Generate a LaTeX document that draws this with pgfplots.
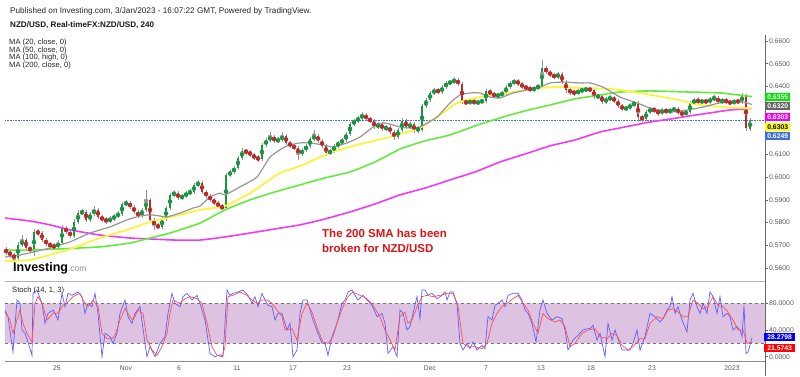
\documentclass[border=0pt]{standalone}
\usepackage{pgfplots}
\pgfplotsset{compat=1.18}
\usepackage{pgfplotstable}
\usepackage{fontspec}
\setmainfont{Liberation Sans}
\newcommand{\fs}[1]{\fontsize{#1}{#1}\selectfont}
\definecolor{upc}{RGB}{22,150,65}
\definecolor{dnc}{RGB}{190,40,40}
\definecolor{wick}{RGB}{150,150,150}
\definecolor{maG}{RGB}{150,150,150}
\definecolor{maY}{RGB}{250,245,60}
\definecolor{maL}{RGB}{100,235,60}
\definecolor{maM}{RGB}{240,60,240}
\definecolor{band}{RGB}{222,194,226}
\definecolor{stB}{RGB}{95,95,255}
\definecolor{stR}{RGB}{255,80,80}
\definecolor{curB}{RGB}{60,110,220}

\pgfplotstableread{
x o h l c
6 0.5679 0.5693 0.5657 0.5670
10 0.5670 0.5679 0.5644 0.5657
14 0.5657 0.5666 0.5622 0.5644
18 0.5644 0.5715 0.5635 0.5701
22 0.5701 0.5745 0.5693 0.5723
26 0.5723 0.5732 0.5679 0.5688
30 0.5688 0.5697 0.5666 0.5679
34 0.5670 0.5772 0.5653 0.5759
38 0.5759 0.5772 0.5741 0.5754
42 0.5754 0.5763 0.5715 0.5723
46 0.5723 0.5732 0.5697 0.5706
50 0.5706 0.5715 0.5684 0.5697
54 0.5697 0.5710 0.5679 0.5693
58 0.5693 0.5723 0.5684 0.5710
62 0.5710 0.5790 0.5701 0.5776
66 0.5776 0.5785 0.5750 0.5759
70 0.5759 0.5768 0.5732 0.5741
74 0.5741 0.5816 0.5732 0.5803
78 0.5803 0.5856 0.5794 0.5842
82 0.5842 0.5860 0.5834 0.5847
86 0.5847 0.5856 0.5803 0.5812
90 0.5812 0.5847 0.5803 0.5838
94 0.5838 0.5873 0.5829 0.5856
98 0.5856 0.5864 0.5816 0.5825
102 0.5825 0.5834 0.5803 0.5812
106 0.5812 0.5825 0.5794 0.5807
110 0.5807 0.5829 0.5798 0.5816
114 0.5816 0.5838 0.5807 0.5829
118 0.5829 0.5851 0.5820 0.5838
122 0.5838 0.5891 0.5829 0.5882
126 0.5882 0.5900 0.5873 0.5886
130 0.5886 0.5895 0.5860 0.5869
134 0.5869 0.5878 0.5838 0.5847
138 0.5847 0.5856 0.5820 0.5829
142 0.5829 0.5864 0.5820 0.5856
146 0.5856 0.5944 0.5847 0.5900
150 0.5900 0.5908 0.5803 0.5812
154 0.5812 0.5820 0.5768 0.5785
158 0.5785 0.5798 0.5772 0.5781
162 0.5781 0.5825 0.5772 0.5816
166 0.5816 0.5873 0.5807 0.5864
170 0.5864 0.5930 0.5856 0.5922
174 0.5922 0.5944 0.5913 0.5930
178 0.5930 0.5939 0.5900 0.5908
182 0.5908 0.5926 0.5900 0.5917
186 0.5917 0.5939 0.5908 0.5930
190 0.5930 0.5948 0.5922 0.5935
194 0.5935 0.5974 0.5926 0.5966
198 0.5966 0.5988 0.5957 0.5974
202 0.5974 0.5983 0.5926 0.5935
206 0.5935 0.5944 0.5908 0.5917
210 0.5917 0.5926 0.5891 0.5900
214 0.5900 0.5908 0.5878 0.5886
218 0.5886 0.5895 0.5864 0.5873
222 0.5873 0.5882 0.5851 0.5864
226 0.5864 0.6019 0.5856 0.6010
230 0.6010 0.6032 0.6001 0.6023
234 0.6023 0.6049 0.6014 0.6041
238 0.6041 0.6093 0.6032 0.6085
242 0.6085 0.6129 0.6076 0.6115
246 0.6115 0.6124 0.6098 0.6111
250 0.6111 0.6120 0.6089 0.6098
254 0.6098 0.6107 0.6076 0.6085
258 0.6085 0.6098 0.6067 0.6080
262 0.6080 0.6151 0.6071 0.6142
266 0.6142 0.6173 0.6133 0.6164
270 0.6164 0.6199 0.6155 0.6177
274 0.6177 0.6186 0.6151 0.6160
278 0.6160 0.6177 0.6151 0.6164
282 0.6164 0.6199 0.6155 0.6182
286 0.6182 0.6190 0.6142 0.6151
290 0.6151 0.6160 0.6129 0.6138
294 0.6138 0.6146 0.6120 0.6129
298 0.6129 0.6138 0.6076 0.6102
302 0.6102 0.6129 0.6093 0.6120
306 0.6120 0.6146 0.6111 0.6138
310 0.6138 0.6177 0.6129 0.6168
314 0.6168 0.6208 0.6160 0.6182
318 0.6182 0.6190 0.6151 0.6160
322 0.6160 0.6168 0.6129 0.6138
326 0.6138 0.6146 0.6093 0.6107
330 0.6107 0.6124 0.6098 0.6115
334 0.6115 0.6146 0.6107 0.6138
338 0.6138 0.6160 0.6129 0.6151
342 0.6151 0.6173 0.6142 0.6164
346 0.6164 0.6199 0.6155 0.6190
350 0.6190 0.6243 0.6182 0.6234
354 0.6234 0.6256 0.6226 0.6248
358 0.6248 0.6270 0.6239 0.6261
362 0.6261 0.6287 0.6252 0.6274
366 0.6274 0.6283 0.6248 0.6256
370 0.6256 0.6265 0.6239 0.6248
374 0.6248 0.6256 0.6212 0.6221
378 0.6221 0.6243 0.6212 0.6234
382 0.6234 0.6243 0.6204 0.6212
386 0.6212 0.6230 0.6204 0.6221
390 0.6221 0.6230 0.6190 0.6199
394 0.6199 0.6208 0.6164 0.6177
398 0.6177 0.6217 0.6168 0.6208
402 0.6208 0.6261 0.6199 0.6248
406 0.6248 0.6256 0.6212 0.6221
410 0.6221 0.6243 0.6212 0.6234
414 0.6234 0.6243 0.6195 0.6204
418 0.6204 0.6226 0.6195 0.6217
422 0.6208 0.6323 0.6199 0.6314
426 0.6314 0.6349 0.6305 0.6340
430 0.6340 0.6380 0.6331 0.6371
434 0.6371 0.6393 0.6362 0.6384
438 0.6384 0.6393 0.6367 0.6375
442 0.6375 0.6406 0.6367 0.6397
446 0.6397 0.6424 0.6389 0.6415
450 0.6415 0.6428 0.6406 0.6419
454 0.6419 0.6441 0.6411 0.6428
458 0.6428 0.6437 0.6402 0.6411
462 0.6411 0.6419 0.6323 0.6331
466 0.6331 0.6345 0.6318 0.6327
470 0.6327 0.6345 0.6318 0.6336
474 0.6336 0.6345 0.6318 0.6327
478 0.6327 0.6340 0.6318 0.6331
482 0.6331 0.6345 0.6327 0.6336
486 0.6336 0.6389 0.6327 0.6380
490 0.6380 0.6389 0.6358 0.6367
494 0.6367 0.6375 0.6349 0.6358
498 0.6358 0.6371 0.6349 0.6362
502 0.6362 0.6380 0.6353 0.6371
506 0.6371 0.6406 0.6362 0.6397
510 0.6397 0.6424 0.6389 0.6415
514 0.6415 0.6433 0.6406 0.6424
518 0.6424 0.6433 0.6402 0.6411
522 0.6411 0.6419 0.6389 0.6397
526 0.6397 0.6406 0.6384 0.6393
530 0.6393 0.6402 0.6375 0.6384
534 0.6384 0.6402 0.6375 0.6393
538 0.6393 0.6411 0.6384 0.6402
542 0.6402 0.6516 0.6393 0.6481
546 0.6481 0.6490 0.6455 0.6463
550 0.6463 0.6472 0.6441 0.6450
554 0.6450 0.6459 0.6433 0.6441
558 0.6441 0.6463 0.6433 0.6455
562 0.6455 0.6463 0.6411 0.6419
566 0.6419 0.6428 0.6371 0.6384
570 0.6384 0.6393 0.6362 0.6375
574 0.6375 0.6384 0.6358 0.6371
578 0.6371 0.6389 0.6362 0.6380
582 0.6380 0.6397 0.6371 0.6384
586 0.6384 0.6397 0.6375 0.6389
590 0.6389 0.6397 0.6375 0.6384
594 0.6384 0.6393 0.6345 0.6353
598 0.6353 0.6367 0.6345 0.6358
602 0.6358 0.6367 0.6323 0.6331
606 0.6331 0.6353 0.6323 0.6345
610 0.6345 0.6362 0.6336 0.6349
614 0.6349 0.6358 0.6327 0.6336
618 0.6336 0.6345 0.6305 0.6314
622 0.6314 0.6323 0.6292 0.6301
626 0.6301 0.6314 0.6292 0.6305
630 0.6305 0.6327 0.6296 0.6318
634 0.6318 0.6336 0.6309 0.6327
638 0.6327 0.6336 0.6243 0.6265
642 0.6265 0.6274 0.6243 0.6256
646 0.6256 0.6296 0.6248 0.6287
650 0.6287 0.6309 0.6279 0.6301
654 0.6301 0.6309 0.6283 0.6292
658 0.6292 0.6301 0.6270 0.6283
662 0.6283 0.6305 0.6274 0.6296
666 0.6296 0.6305 0.6279 0.6287
670 0.6287 0.6305 0.6279 0.6296
674 0.6296 0.6309 0.6287 0.6301
678 0.6301 0.6309 0.6274 0.6283
682 0.6283 0.6292 0.6265 0.6279
686 0.6279 0.6296 0.6270 0.6287
690 0.6287 0.6336 0.6279 0.6327
694 0.6327 0.6349 0.6318 0.6340
698 0.6340 0.6353 0.6323 0.6331
702 0.6331 0.6345 0.6323 0.6336
706 0.6336 0.6345 0.6323 0.6331
710 0.6331 0.6353 0.6323 0.6345
714 0.6345 0.6362 0.6336 0.6349
718 0.6349 0.6358 0.6323 0.6331
722 0.6331 0.6349 0.6323 0.6340
726 0.6340 0.6349 0.6323 0.6331
730 0.6331 0.6340 0.6318 0.6327
734 0.6327 0.6345 0.6318 0.6336
738 0.6336 0.6345 0.6323 0.6331
742 0.6331 0.6371 0.6323 0.6358
746 0.6358 0.6367 0.6204 0.6217
750 0.6212 0.6261 0.6204 0.6249
}\candles

\begin{document}
\begin{tikzpicture}[txt/.style={inner sep=0pt, anchor=west}]
\begin{scope}[x=1pt,y=1pt]
\path[use as bounding box] (0,0) rectangle (800,376);
\fill[white] (0,0) rectangle (800,376);
\end{scope}

% ---------- main price panel ----------
\begin{axis}[
  at={(5pt,95pt)}, anchor=south west, scale only axis,
  width=760pt, height=246pt,
  xmin=5, xmax=765, ymin=0.55427, ymax=0.66264,
  axis line style={draw=none},
  xtick=\empty,
  ytick={0.56,0.57,0.58,0.59,0.60,0.61,0.64,0.65,0.66},
  ytick pos=right, yticklabel pos=right,
  tick align=outside, major tick length=2.5pt,
  ytick style={draw=black!60, line width=0.5pt},
  yticklabel style={font=\fs{6.8}, text=black!65, inner sep=1.5pt},
  scaled y ticks=false,
  /pgf/number format/fixed, /pgf/number format/fixed zerofill,
  /pgf/number format/precision=4, /pgf/number format/assume math mode=true,
  clip=false,
]
% current price line
\addplot[curB, densely dotted, line width=0.6pt, forget plot] coordinates {(5,0.6249) (765,0.6249)};
% wicks
\addplot[wick, only marks, mark=none, forget plot,
  error bars/.cd, y dir=both, y explicit, error mark=none,
  error bar style={color=wick, line width=0.5pt}]
  table[x=x, y expr={(\thisrow{h}+\thisrow{l})/2}, y error expr={(\thisrow{h}-\thisrow{l})/2}] {\candles};
% up bodies
\addplot[upc, only marks, mark=none, forget plot,
  restrict expr to domain={\thisrow{c}-\thisrow{o}}{0:1},
  error bars/.cd, y dir=both, y explicit, error mark=none,
  error bar style={color=upc, line width=1.9pt}]
  table[x=x, y expr={(\thisrow{o}+\thisrow{c})/2}, y error expr={abs(\thisrow{c}-\thisrow{o})/2+0.00006}] {\candles};
% down bodies
\addplot[dnc, only marks, mark=none, forget plot,
  restrict expr to domain={\thisrow{c}-\thisrow{o}}{-1:0},
  error bars/.cd, y dir=both, y explicit, error mark=none,
  error bar style={color=dnc, line width=1.9pt}]
  table[x=x, y expr={(\thisrow{o}+\thisrow{c})/2}, y error expr={abs(\thisrow{c}-\thisrow{o})/2+0.00006}] {\candles};

% MA 200 (magenta)
\addplot[maM, line width=1.6pt, smooth, tension=0.3] coordinates {
(5,0.5820)(30,0.5807)(50,0.5790)(70,0.5768)(100,0.5745)(130,0.5732)(150,0.5728)(175,0.5723)(200,0.5723)(225,0.5737)(250,0.5754)(275,0.5772)(300,0.5790)(325,0.5816)(350,0.5847)(375,0.5882)(400,0.5922)(425,0.5952)(450,0.5988)(475,0.6023)(500,0.6067)(525,0.6102)(550,0.6138)(575,0.6164)(600,0.6199)(620,0.6217)(650,0.6243)(670,0.6256)(690,0.6270)(710,0.6283)(730,0.6296)(752,0.6303)};
% MA 100 (green)
\addplot[maL, line width=1.6pt, smooth, tension=0.3] coordinates {
(5,0.5679)(30,0.5679)(60,0.5684)(100,0.5693)(130,0.5710)(150,0.5732)(170,0.5754)(200,0.5798)(225,0.5856)(250,0.5900)(275,0.5935)(300,0.5966)(325,0.5997)(350,0.6023)(375,0.6067)(400,0.6124)(425,0.6160)(450,0.6186)(475,0.6226)(500,0.6261)(525,0.6292)(550,0.6318)(575,0.6345)(600,0.6362)(620,0.6375)(650,0.6380)(690,0.6375)(720,0.6371)(752,0.6355)};
% MA 50 (yellow)
\addplot[maY, line width=1.8pt, smooth, tension=0.3] coordinates {
(5,0.5631)(30,0.5635)(67,0.5679)(100,0.5732)(133,0.5776)(150,0.5803)(167,0.5820)(200,0.5856)(225,0.5873)(250,0.5930)(265,0.5974)(280,0.6019)(300,0.6049)(330,0.6107)(357,0.6142)(390,0.6177)(400,0.6190)(420,0.6217)(440,0.6274)(457,0.6327)(480,0.6353)(513,0.6375)(540,0.6393)(560,0.6397)(580,0.6393)(610,0.6389)(640,0.6371)(663,0.6353)(683,0.6336)(700,0.6318)(723,0.6309)(752,0.6303)};
% MA 20 (gray)
\addplot[maG, line width=1.2pt, smooth, tension=0.3] coordinates {
(5,0.5648)(20,0.5657)(33,0.5670)(50,0.5688)(70,0.5715)(90,0.5754)(110,0.5781)(127,0.5812)(140,0.5829)(150,0.5834)(160,0.5829)(167,0.5825)(180,0.5842)(193,0.5864)(200,0.5873)(210,0.5913)(220,0.5930)(225,0.5922)(240,0.5957)(257,0.6001)(270,0.6089)(283,0.6129)(290,0.6142)(300,0.6151)(310,0.6151)(323,0.6142)(333,0.6133)(347,0.6151)(360,0.6177)(373,0.6221)(383,0.6239)(390,0.6234)(400,0.6221)(410,0.6217)(420,0.6221)(437,0.6265)(450,0.6327)(460,0.6362)(470,0.6371)(480,0.6371)(490,0.6353)(500,0.6349)(513,0.6371)(527,0.6384)(540,0.6397)(550,0.6415)(563,0.6419)(580,0.6415)(590,0.6415)(603,0.6397)(620,0.6353)(637,0.6327)(650,0.6305)(670,0.6287)(687,0.6296)(703,0.6309)(720,0.6327)(743,0.6331)(752,0.6320)};
\end{axis}

% ---------- stochastic panel ----------
\begin{axis}[
  at={(5pt,15pt)}, anchor=south west, scale only axis,
  width=760pt, height=78pt,
  xmin=5, xmax=765, ymin=-6.45, ymax=110.5,
  axis line style={draw=none},
  xtick={57,126,179,237,293,347,430,486,541,591,652,732},
  xticklabels={25,Nov,6,11,17,23,Dec,7,13,18,23,2023},
  xtick pos=bottom, xticklabel pos=bottom,
  xtick style={draw=none},
  xticklabel style={font=\fs{6.8}, text=black!65, inner sep=2pt},
  ytick={0,40,80},
  ytick pos=right, yticklabel pos=right,
  tick align=outside, major tick length=2.5pt,
  ytick style={draw=black!60, line width=0.5pt},
  yticklabel style={font=\fs{6.8}, text=black!65, inner sep=1.5pt},
  /pgf/number format/fixed, /pgf/number format/fixed zerofill,
  /pgf/number format/precision=4, /pgf/number format/assume math mode=true,
]
\addplot[draw=none, fill=band, forget plot] coordinates {(5,20)(765,20)(765,80)(5,80)(5,20)};
\addplot[black!55, dashed, line width=0.5pt, forget plot] coordinates {(5,20)(765,20)};
\addplot[black!55, dashed, line width=0.5pt, forget plot] coordinates {(5,80)(765,80)};
% %K (blue)
\addplot[stB, line width=0.7pt] coordinates {
(5,70)(8,60)(13,7)(17,85)(20,80)(22,40)(25,35)(28,22)(32,2)(33,95)(37,100)(42,80)(45,50)(48,65)(53,70)(55,65)(58,55)(62,95)(65,75)(68,95)(72,92)(78,97)(82,90)(85,65)(88,80)(92,75)(95,95)(98,65)(102,0)(105,35)(110,30)(113,20)(117,35)(120,65)(125,85)(128,60)(132,50)(135,65)(140,75)(145,20)(147,0)(150,15)(155,0)(160,20)(165,30)(168,65)(172,95)(175,80)(180,75)(183,90)(187,95)(192,85)(197,92)(200,80)(205,55)(210,5)(215,0)(220,3)(223,0)(227,100)(230,92)(233,95)(238,97)(243,100)(248,92)(252,80)(255,90)(258,75)(262,95)(265,85)(268,77)(272,75)(275,55)(278,65)(282,65)(287,40)(290,50)(293,0)(297,10)(300,65)(303,85)(307,85)(310,70)(313,55)(318,35)(322,20)(325,20)(328,2)(332,30)(337,50)(342,80)(345,85)(348,97)(352,100)(355,92)(358,85)(363,92)(367,85)(372,77)(377,60)(382,65)(385,50)(388,5)(393,15)(397,0)(400,70)(403,65)(407,40)(410,45)(413,65)(417,90)(420,57)(422,100)(425,100)(428,92)(432,95)(437,87)(442,92)(445,97)(447,85)(450,97)(453,97)(457,80)(460,20)(463,10)(467,20)(470,12)(473,22)(477,10)(482,17)(485,12)(488,60)(492,55)(495,77)(498,80)(502,85)(505,75)(508,92)(513,95)(518,95)(522,85)(525,70)(528,65)(532,50)(536,22)(540,70)(543,85)(547,65)(552,55)(557,60)(562,57)(565,40)(568,10)(573,25)(578,32)(583,40)(587,42)(590,42)(593,47)(597,25)(600,35)(605,0)(608,50)(612,25)(615,40)(618,27)(622,10)(627,10)(630,10)(633,20)(637,40)(640,10)(645,30)(650,65)(655,60)(660,52)(663,57)(667,70)(670,75)(672,90)(675,65)(678,75)(682,55)(687,37)(690,85)(693,95)(697,75)(700,65)(703,80)(707,65)(710,97)(713,90)(717,65)(720,90)(723,60)(727,65)(730,60)(733,40)(737,45)(740,40)(742,30)(744,77)(746,5)(748,7)(752,28.3)};
% %D (red)
\addplot[stR, line width=0.7pt] coordinates {
(5,67)(10,55)(13,35)(17,55)(20,70)(23,50)(27,35)(32,22)(35,80)(38,90)(42,80)(47,55)(53,65)(58,65)(63,77)(68,82)(73,90)(80,95)(83,85)(88,75)(93,85)(98,75)(102,35)(107,27)(112,27)(115,32)(120,55)(125,72)(130,60)(133,55)(138,70)(143,65)(147,25)(152,10)(157,2)(162,15)(167,35)(170,65)(173,85)(180,80)(185,87)(190,90)(197,87)(202,80)(207,50)(212,15)(217,2)(222,0)(225,15)(228,90)(233,92)(240,97)(247,92)(252,85)(257,80)(262,85)(267,85)(272,80)(277,70)(282,60)(285,40)(292,42)(297,25)(302,65)(307,80)(312,67)(318,40)(323,22)(328,20)(333,30)(338,55)(343,75)(348,90)(353,97)(360,92)(367,87)(373,77)(380,60)(385,40)(390,25)(395,10)(400,60)(405,67)(408,50)(412,55)(417,75)(422,90)(427,92)(433,90)(440,92)(447,95)(453,95)(458,75)(463,20)(468,15)(475,15)(482,12)(487,20)(492,50)(497,65)(502,75)(507,80)(513,87)(518,92)(523,80)(528,70)(533,50)(538,35)(543,65)(548,57)(555,52)(560,55)(565,45)(570,15)(575,20)(582,35)(588,40)(595,42)(600,30)(607,27)(612,35)(617,32)(622,17)(628,10)(633,15)(640,27)(645,27)(650,50)(657,60)(663,57)(668,70)(673,72)(678,67)(683,60)(688,60)(693,85)(698,80)(703,72)(708,75)(713,90)(718,77)(723,75)(728,67)(733,55)(738,40)(743,40)(747,20)(752,21.6)};
\end{axis}

\begin{scope}[x=1pt,y=1pt]
% panel frame lines
\draw[black!30, line width=0.6pt] (5,95) -- (765,95);
\draw[black!45, line width=0.6pt] (5,15) -- (765,15);
\draw[black!60, line width=0.6pt] (765,0) -- (765,341);

% header texts
\node[txt, font=\fs{8.2}, text=black!85] at (10,365) {Published on Investing.com, 3/Jan/2023 - 16:07:22 GMT, Powered by TradingView.};
\node[txt, font=\fs{8.1}\bfseries, text=black!90] at (10,351) {NZD/USD, Real-timeFX:NZD/USD, 240};
\node[txt, font=\fs{7.6}, text=black!85] at (9,333) {MA (20, close, 0)};
\node[txt, font=\fs{7.6}, text=black!85] at (9,325) {MA (50, close, 0)};
\node[txt, font=\fs{7.6}, text=black!85] at (9,318) {MA (100, high, 0)};
\node[txt, font=\fs{7.6}, text=black!85] at (9,310) {MA (200, close, 0)};

% logo
\node[txt] at (13,108) {\fs{12.5}\bfseries Investing\textcolor{black!45}{\fs{8.5}\mdseries .com}};

% annotation
\node[txt, font=\fs{11.5}\bfseries, text={rgb,255:red,220;green,20;blue,20}] at (322,143) {The 200 SMA has been};
\node[txt, font=\fs{11.5}\bfseries, text={rgb,255:red,220;green,20;blue,20}] at (322,128) {broken for NZD/USD};

% stoch label
\node[txt, font=\fs{7.6}, text=black!85] at (12,85) {Stoch (14, 1, 3)};

% right value boxes (main)
\node[anchor=west, inner sep=0pt, minimum width=25pt, minimum height=7.5pt, fill={rgb,255:red,0;green,230;blue,0}, text=white, font=\fs{6.8}\bfseries] at (765,279) {0.6355};
\node[anchor=west, inner sep=0pt, minimum width=25pt, minimum height=7.5pt, fill=black!60, text=white, font=\fs{6.8}\bfseries] at (765,270) {0.6320};
\node[anchor=west, inner sep=0pt, minimum width=25pt, minimum height=7.5pt, fill={rgb,255:red,238;green,0;blue,238}, text=white, font=\fs{6.8}\bfseries] at (765,259) {0.6303};
\node[anchor=west, inner sep=0pt, minimum width=25pt, minimum height=7.5pt, fill={rgb,255:red,255;green,255;blue,0}, text=black, font=\fs{6.8}\bfseries] at (765,249) {0.6303};
\node[anchor=west, inner sep=0pt, minimum width=25pt, minimum height=7.5pt, fill=curB, text=white, font=\fs{6.8}\bfseries] at (765,240) {0.6249};
% right value boxes (stoch)
\node[anchor=west, inner sep=0pt, minimum width=31pt, minimum height=7.5pt, fill={rgb,255:red,0;green,0;blue,255}, text=white, font=\fs{6.8}\bfseries] at (764,39) {28.2798};
\node[anchor=west, inner sep=0pt, minimum width=31pt, minimum height=7.5pt, fill={rgb,255:red,255;green,0;blue,0}, text=white, font=\fs{6.8}\bfseries] at (764,28) {21.5743};
\end{scope}
\end{tikzpicture}
\end{document}
